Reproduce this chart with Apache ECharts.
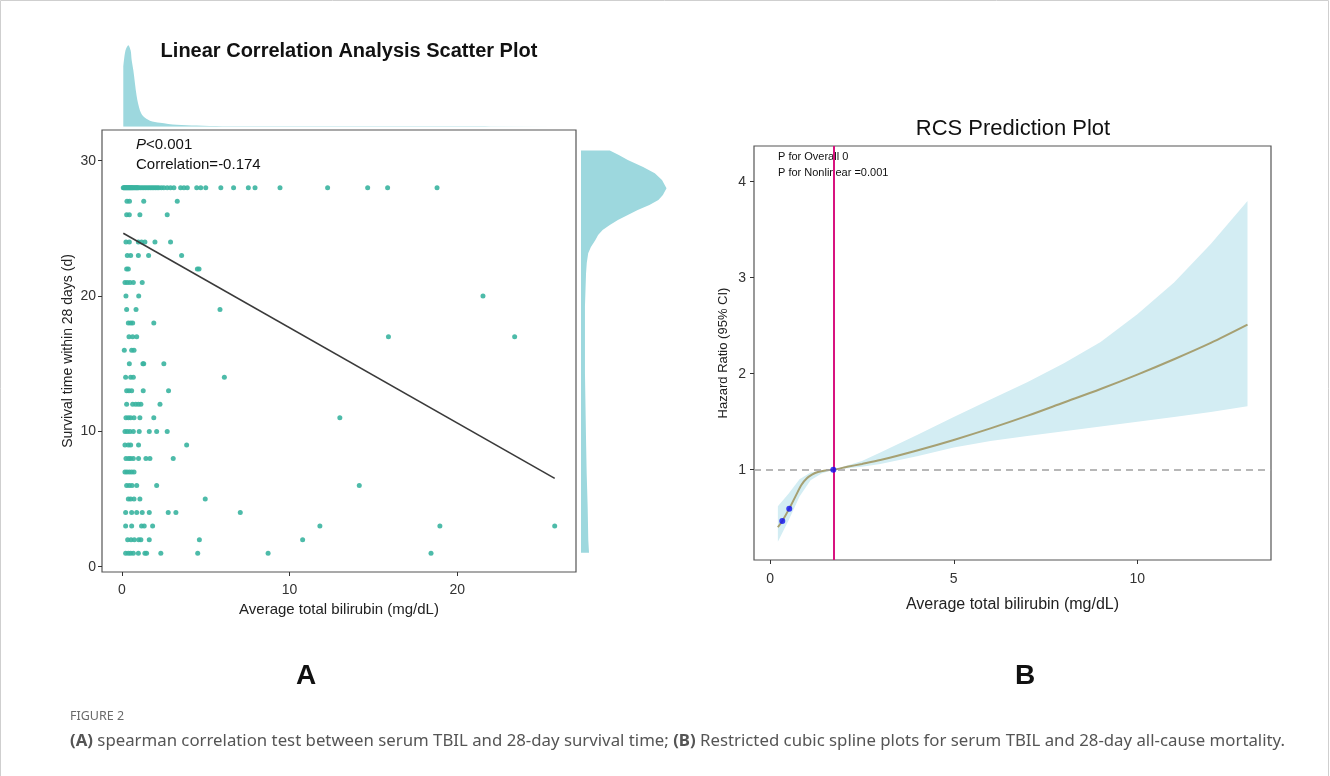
<!DOCTYPE html>
<html>
<head>
<meta charset="utf-8">
<script src="https://cdn.jsdelivr.net/npm/echarts@6/dist/echarts.min.js"></script>
<style>
  html, body { margin: 0; padding: 0; background: #fff; }
  #chart { width: 1330px; height: 776px; }
</style>
</head>
<body>
<div id="chart"></div>
<script>
/* ---- panel A: scatter data (bilirubin values per survival day) ---- */
var survivalDays = [28, 27, 26, 24, 23, 22, 21, 20, 19, 18, 17, 16, 15, 14, 13, 12, 11, 10, 9, 8, 7, 6, 5, 4, 3, 2, 1];
var bilirubinByDay = [
  [0.08,0.12,0.16,0.2,0.24,0.28,0.32,0.36,0.4,0.44,0.48,0.52,0.56,0.6,0.65,0.7,0.75,0.8,0.85,0.9,0.95,1.0,1.1,1.2,1.3,1.4,1.5,1.6,1.7,1.8,1.9,2.0,2.1,2.2,2.35,2.5,2.7,2.9,3.1,3.5,3.7,3.9,4.46,4.7,5.0,5.9,6.66,7.54,7.94,9.43,12.27,14.66,15.85,18.8],
  [0.3,0.45,1.3,3.3],
  [0.28,0.44,1.07,2.7],
  [0.24,0.44,0.98,1.17,1.37,1.97,2.9],
  [0.32,0.52,0.98,1.59,3.56],
  [0.28,0.38,4.5,4.6],
  [0.18,0.32,0.48,0.68,1.21],
  [0.24,1.0,21.54],
  [0.28,0.84,5.85],
  [0.38,0.52,0.64,1.9],
  [0.42,0.64,0.88,15.9,23.43],
  [0.14,0.58,0.72],
  [0.44,1.25,1.3,2.5],
  [0.22,0.52,0.68,6.11],
  [0.28,0.42,0.58,1.27,2.78],
  [0.28,0.64,0.82,0.98,1.13,2.27],
  [0.24,0.38,0.52,0.72,1.07,1.9,13.0],
  [0.18,0.32,0.48,0.68,1.03,1.63,2.07,2.7],
  [0.18,0.38,0.52,0.99,3.86],
  [0.24,0.4,0.52,0.68,0.99,1.43,1.67,3.06],
  [0.18,0.3,0.44,0.58,0.72],
  [0.28,0.44,0.6,0.88,2.07,14.16],
  [0.38,0.52,0.72,1.07,4.97],
  [0.22,0.58,0.88,1.21,1.63,2.76,3.22,7.06],
  [0.22,0.58,1.17,1.33,1.83,11.81,18.97,25.82],
  [0.34,0.54,0.74,1.0,1.13,1.63,4.62,10.78],
  [0.22,0.38,0.52,0.68,0.98,1.37,1.47,2.32,4.52,8.72,18.44]
];
var fitX = [0.08, 25.82];
var fitY = [24.64, 6.53];

// marginal densities
var topDensX = [0.08,0.2,0.38,0.52,0.58,0.68,0.88,1.07,1.27,1.67,2.27,3.26,4.46,6,9,12,15,19,22,25.8];
var topDensY = [0.69,0.87,0.94,0.88,0.77,0.65,0.35,0.19,0.12,0.07,0.046,0.023,0.014,0.006,0.004,0.005,0.004,0.004,0.003,0.003];
var rightDensY = [30.75,30.43,30.06,29.54,29.08,28.58,27.97,27.47,27.10,26.73,26.36,25.99,25.62,25.25,24.88,24.51,24.15,23.63,23.16,22.45,21.69,19.22,14.32,9.36,6.93,4.43,1.97,1.03];
var rightDensX = [0.32,0.42,0.52,0.69,0.82,0.90,0.95,0.91,0.86,0.76,0.63,0.52,0.41,0.32,0.24,0.19,0.16,0.11,0.08,0.064,0.056,0.044,0.044,0.056,0.063,0.074,0.081,0.089];

/* ---- panel B: RCS curve ---- */
var hrX = [0.21,0.33,0.52,0.7,0.85,1.0,1.15,1.3,1.5,1.72,2.1,2.5,3,4,5,6,7,8,9,10,11,12,13];
var hrY = [0.40,0.466,0.594,0.73,0.84,0.91,0.95,0.975,0.992,1.0,1.03,1.06,1.10,1.20,1.31,1.43,1.56,1.70,1.84,1.99,2.15,2.32,2.51];
var bandX = [0.21,0.5,0.8,1.1,1.4,1.72,2.5,3,4,5,6,7,8,9,10,11,12,13];
var bandLow = [0.25,0.47,0.72,0.89,0.96,1.0,1.03,1.06,1.14,1.23,1.30,1.35,1.40,1.45,1.50,1.55,1.60,1.66];
var bandHigh = [0.62,0.75,0.90,0.97,0.99,1.0,1.09,1.18,1.36,1.55,1.73,1.91,2.11,2.33,2.62,2.95,3.35,3.80];
var knotX = [0.33, 0.52, 1.72];
var knotY = [0.466, 0.594, 1.0];
var refX = 1.74;
var refHR = 1;

var ticksAX = [0, 10, 20];
var ticksAY = [0, 10, 20, 30];
var ticksBX = [0, 5, 10];
var ticksBY = [1, 2, 3, 4];

var FONT = 'Liberation Sans, Arial, sans-serif';

function zip(xs, ys) {
  return xs.map(function (x, i) { return [x, ys[i]]; });
}

var scatterData = [];
survivalDays.forEach(function (d, i) {
  bilirubinByDay[i].forEach(function (b) { scatterData.push([b, d]); });
});

// polygon drawn through the axis scales
function polygonSeries(xi, yi, pts, color) {
  return {
    type: 'custom', xAxisIndex: xi, yAxisIndex: yi, silent: true, z: 1,
    data: [0],
    renderItem: function (params, api) {
      return {
        type: 'polygon',
        shape: { points: pts.map(function (p) { return api.coord(p); }) },
        style: { fill: color }
      };
    }
  };
}

var rightPoly = [[0, rightDensY[0]]].concat(zip(rightDensX, rightDensY), [[0, rightDensY[rightDensY.length - 1]]]);
var bandPoly = zip(bandX, bandHigh).concat(zip(bandX, bandLow).reverse());

var tickStyle = { show: true, length: 4, lineStyle: { color: '#333', width: 1 } };
var labelStyle = { color: '#333', fontSize: 14, fontFamily: FONT };

var chart = echarts.init(document.getElementById('chart'));
chart.setOption({
  animation: false,
  backgroundColor: '#fff',
  grid: [
    { left: 102, top: 130, width: 474, height: 442, show: true, borderColor: '#555', borderWidth: 1.2 },
    { left: 102, top: 40, width: 474, height: 86.7 },
    { left: 581, top: 130, width: 90, height: 442 },
    { left: 754, top: 146, width: 517, height: 414, show: true, borderColor: '#555', borderWidth: 1.2 }
  ],
  xAxis: [
    {
      gridIndex: 0, type: 'value', min: -1.19, max: 27.09,
      axisLine: { show: false, onZero: false }, splitLine: { show: false },
      axisTick: Object.assign({ customValues: ticksAX }, tickStyle),
      axisLabel: Object.assign({ customValues: ticksAX, margin: 11 }, labelStyle),
      name: 'Average total bilirubin (mg/dL)', nameLocation: 'middle', nameGap: 26,
      nameTextStyle: { fontSize: 15, color: '#222', fontFamily: FONT }
    },
    { gridIndex: 1, type: 'value', min: -1.19, max: 27.09, show: false },
    { gridIndex: 2, type: 'value', min: 0, max: 1, show: false },
    {
      gridIndex: 3, type: 'value', min: -0.44, max: 13.64,
      axisLine: { show: false, onZero: false }, splitLine: { show: false },
      axisTick: Object.assign({ customValues: ticksBX }, tickStyle),
      axisLabel: Object.assign({ customValues: ticksBX, margin: 12 }, labelStyle),
      name: 'Average total bilirubin (mg/dL)', nameLocation: 'middle', nameGap: 37,
      nameTextStyle: { fontSize: 16, color: '#222', fontFamily: FONT }
    }
  ],
  yAxis: [
    {
      gridIndex: 0, type: 'value', min: -0.39, max: 32.27,
      axisLine: { show: false, onZero: false }, splitLine: { show: false },
      axisTick: Object.assign({ customValues: ticksAY }, tickStyle),
      axisLabel: Object.assign({ customValues: ticksAY, margin: 6 }, labelStyle),
      name: 'Survival time within 28 days (d)', nameLocation: 'middle', nameGap: 27,
      nameTextStyle: { fontSize: 14, color: '#222', fontFamily: FONT }
    },
    { gridIndex: 1, type: 'value', min: 0, max: 1, show: false },
    { gridIndex: 2, type: 'value', min: -0.39, max: 32.27, show: false },
    {
      gridIndex: 3, type: 'value', min: 0.059, max: 4.372,
      axisLine: { show: false, onZero: false }, splitLine: { show: false },
      axisTick: Object.assign({ customValues: ticksBY }, tickStyle),
      axisLabel: Object.assign({ customValues: ticksBY, margin: 8 }, labelStyle),
      name: 'Hazard Ratio (95% CI)', nameLocation: 'middle', nameGap: 24,
      nameTextStyle: { fontSize: 13, color: '#222', fontFamily: FONT }
    }
  ],
  series: [
    {
      type: 'scatter', xAxisIndex: 0, yAxisIndex: 0, data: scatterData,
      symbolSize: 5, itemStyle: { color: '#3AB4A0', opacity: 0.9 }, z: 3
    },
    {
      type: 'line', xAxisIndex: 0, yAxisIndex: 0, data: zip(fitX, fitY),
      showSymbol: false, lineStyle: { color: '#3a3a3a', width: 1.6 }, z: 4
    },
    {
      type: 'line', xAxisIndex: 1, yAxisIndex: 1, data: zip(topDensX, topDensY),
      showSymbol: false, smooth: 0.3, lineStyle: { width: 0 },
      areaStyle: { color: '#9DD8DE', opacity: 1 }
    },
    polygonSeries(2, 2, rightPoly, '#9DD8DE'),
    polygonSeries(3, 3, bandPoly, '#D3EDF3'),
    {
      type: 'line', xAxisIndex: 3, yAxisIndex: 3, data: zip(hrX, hrY),
      showSymbol: false, smooth: 0.3,
      lineStyle: { color: '#A6A072', width: 2 }, z: 3,
      markLine: {
        silent: true, symbol: 'none', label: { show: false },
        data: [
          { yAxis: refHR, lineStyle: { color: '#a0a0a0', type: [7, 5], width: 1.5 } },
          { xAxis: refX, lineStyle: { color: '#D8137F', type: 'solid', width: 2 } }
        ]
      }
    },
    {
      type: 'scatter', xAxisIndex: 3, yAxisIndex: 3, data: zip(knotX, knotY),
      symbolSize: 6, itemStyle: { color: '#1010F0' }, z: 5
    }
  ],
  graphic: [
    { type: 'rect', shape: { x: 0.5, y: 0.5, width: 1328, height: 790 }, style: { fill: 'none', stroke: '#cfcfcf', lineWidth: 1 }, silent: true },
    { type: 'text', x: 349, y: 51, style: { text: 'Linear Correlation Analysis Scatter Plot', font: 'bold 20px ' + FONT, fill: '#111', align: 'center', verticalAlign: 'middle' } },
    { type: 'text', x: 136, y: 145, style: {
        text: '{i|P}<0.001', font: '15px ' + FONT, fill: '#111', verticalAlign: 'middle',
        rich: { i: { fontStyle: 'italic', fontSize: 15, fontFamily: FONT } } } },
    { type: 'text', x: 136, y: 165, style: { text: 'Correlation=-0.174', font: '15px ' + FONT, fill: '#111', verticalAlign: 'middle' } },
    { type: 'text', x: 1013, y: 129, style: { text: 'RCS Prediction Plot', font: '22px ' + FONT, fill: '#111', align: 'center', verticalAlign: 'middle' } },
    { type: 'text', x: 778, y: 157, style: { text: 'P for Overall 0', font: '11px ' + FONT, fill: '#111', verticalAlign: 'middle' } },
    { type: 'text', x: 778, y: 173, style: { text: 'P for Nonlinear =0.001', font: '11px ' + FONT, fill: '#111', verticalAlign: 'middle' } },
    { type: 'text', x: 306, y: 676, style: { text: 'A', font: 'bold 28px ' + FONT, fill: '#111', align: 'center', verticalAlign: 'middle' } },
    { type: 'text', x: 1025, y: 676, style: { text: 'B', font: 'bold 28px ' + FONT, fill: '#111', align: 'center', verticalAlign: 'middle' } },
    { type: 'text', x: 70, y: 716, style: { text: 'FIGURE 2', font: '12.5px Noto Sans', fill: '#6a6a6a', verticalAlign: 'middle' } },
    { type: 'text', x: 70, y: 741, style: {
        text: '{b|(A)} spearman correlation test between serum TBIL and 28-day survival time; {b|(B)} Restricted cubic spline plots for serum TBIL and 28-day all-cause mortality.',
        font: '16.8px Noto Sans', fill: '#555', verticalAlign: 'middle',
        rich: { b: { fontWeight: 'bold', fontSize: 16.8, fontFamily: 'Noto Sans', color: '#555' } } } }
  ]
});
</script>
</body>
</html>
